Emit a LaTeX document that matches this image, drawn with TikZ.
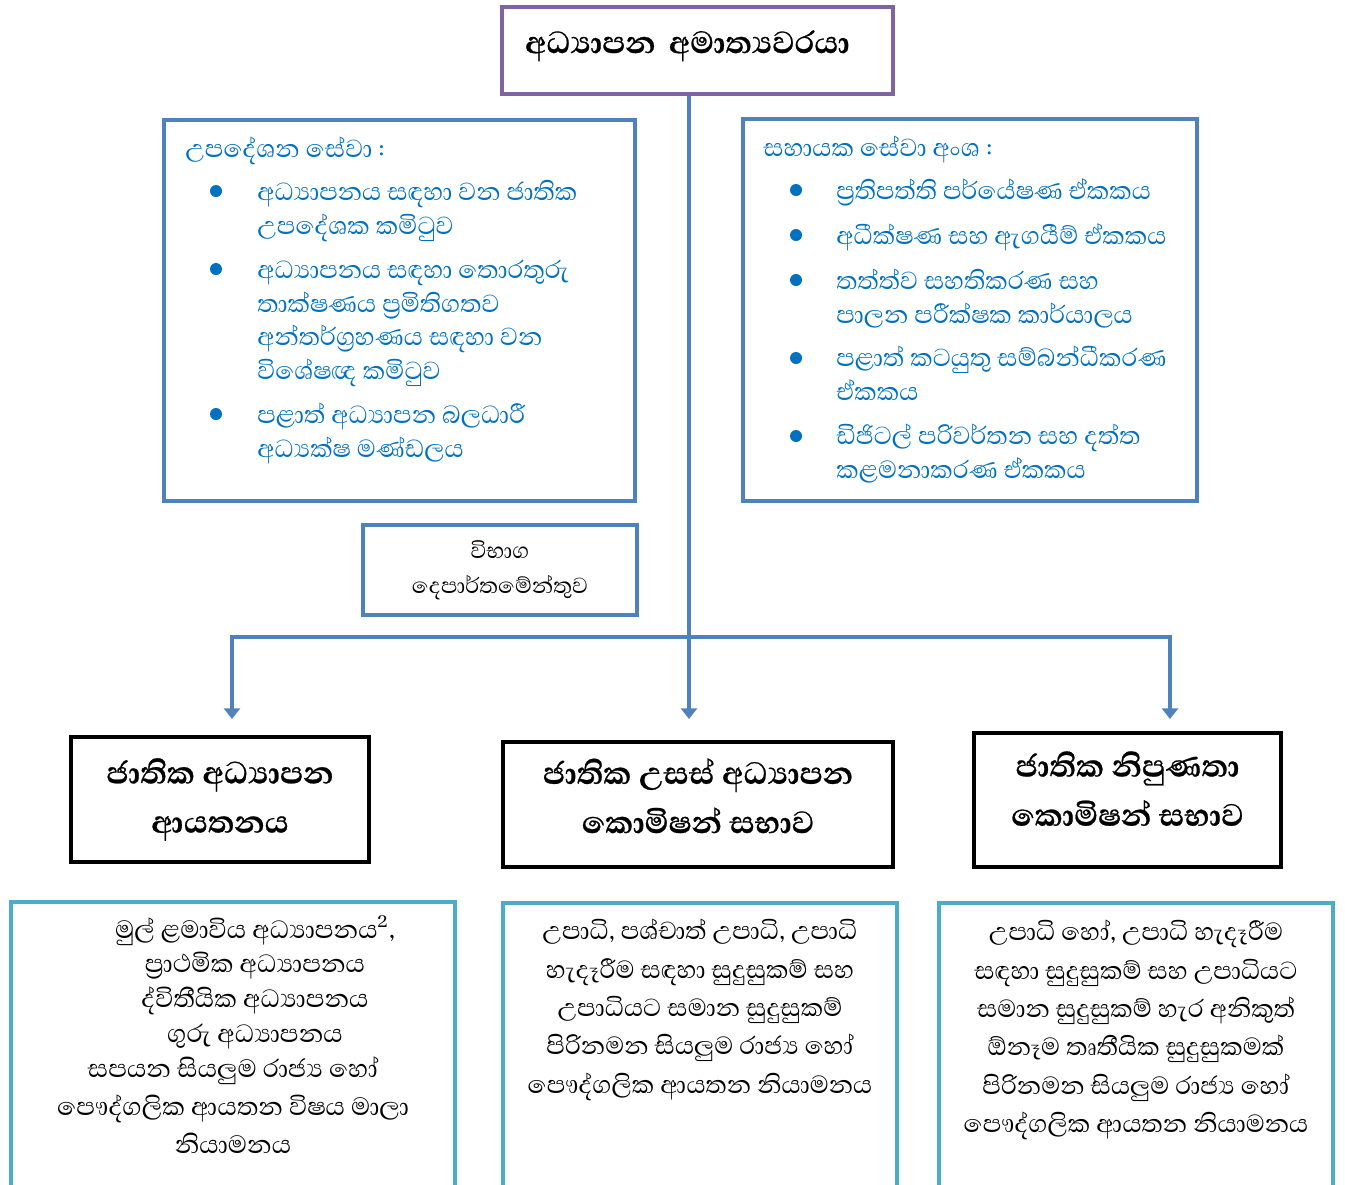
\documentclass[tikz,border=0pt]{standalone}
\usepackage{fontspec}
\setmainfont[Script=Sinhala,BoldFeatures={FakeBold=0.6}]{Abhaya Libre}
\usetikzlibrary{arrows.meta}
\definecolor{ministerpurple}{HTML}{8064A2}
\definecolor{serviceblue}{HTML}{4F81BD}
\definecolor{servicetext}{HTML}{0070C0}
\definecolor{regulatorteal}{HTML}{4BACC6}
\begin{document}
\begin{tikzpicture}[x=0.02cm,y=-0.02cm,
		purplebox/.style={draw=ministerpurple,line width=2.3pt,rectangle},
		bluebox/.style={draw=serviceblue,line width=2.3pt,rectangle},
		headbox/.style={draw=black,line width=2.3pt,rectangle,align=center,font=\fontsize{22.5}{28}\selectfont\bfseries},
		tealbox/.style={draw=regulatorteal,line width=2.3pt,rectangle,anchor=north,minimum height=6cm},
		servicetxt/.style={text=servicetext,anchor=base west,align=left,inner sep=0pt,font=\fontsize{18}{19}\selectfont},
		regtxt/.style={anchor=north,align=center,inner sep=0pt},
		feed/.style={draw=serviceblue,line width=2.3pt},
		tip/.style={-{Triangle[width=9pt,length=6pt]}}]
			\useasboundingbox (0,0) rectangle (1345,1184);
			\clip (0,0) rectangle (1345,1184);
			%\draw [help lines,step=50] (0,0) grid (1345,1184);
			\coordinate (trunk) at (689,637);
			\coordinate (busL) at (232,637);
			\coordinate (busR) at (1170,637);
			\node [purplebox,minimum width=7.82cm,minimum height=1.74cm,text width=6.9cm,align=left,text depth=10pt,font=\fontsize{22.4}{26}\selectfont\bfseries] (minister) at (697.5,50.5) {අධ්^^^^200dයාපන අමාත්^^^^200dයවරයා};
			\node [bluebox,minimum width=9.42cm,minimum height=7.62cm] (advisory) at (399.5,310.5) {};
			\node [bluebox,minimum width=9.08cm,minimum height=7.64cm] (support) at (970,310) {};
			\node [bluebox,minimum width=5.48cm,minimum height=1.8cm,align=center,font=\fontsize{15.9}{20}\selectfont] (exams) at (500,570) {විභාග\\දෙපාර්තමේන්තුව};
			\node [headbox,minimum width=5.96cm,minimum height=2.5cm] (nie) at (220,799.5) {ජාතික අධ්^^^^200dයාපන\\ආයතනය};
			\node [headbox,minimum width=7.8cm,minimum height=2.5cm,text depth=10pt] (ugc) at (698,804.5) {ජාතික උසස් අධ්^^^^200dයාපන\\කොමිෂන් සභාව};
			\node [headbox,minimum width=6.14cm,minimum height=2.68cm,text depth=13pt] (tvec) at (1127.5,800) {ජාතික නිපුණතා\\කොමිෂන් සභාව};
			\node [tealbox,minimum width=8.88cm] (nieR) at (233,900) {};
			\node [tealbox,minimum width=7.88cm] (ugcR) at (700,901) {};
			\node [tealbox,minimum width=7.88cm] (tvecR) at (1136,901) {};
			\draw [feed,tip,shorten >=0.42cm] (minister.south -| trunk) to (ugc.north -| trunk);
			\draw [feed,{Triangle[width=9pt,length=6pt]}-{Triangle[width=9pt,length=6pt]},shorten <=0.32cm,shorten >=0.24cm] (busL |- nie.north) to (busL) to (busR) to (busR |- tvec.north);
			% advisory services
			\node [servicetxt] (advH) at (185,157) {උපදේශන සේවා :};
			\node [servicetxt] (adv1) at (257,234) {අධ්^^^^200dයාපනය සඳහා වන ජාතික\\උපදේශක කමිටුව};
			\node [servicetxt] (adv2) at (257,379) {අධ්^^^^200dයාපනය සඳහා තොරතුරු\\තාක්ෂණය ප්^^^^200dරමිතිගතව\\අන්තර්ග්^^^^200dරහණය සඳහා වන\\විශේෂඥ කමිටුව};
			\node [servicetxt] (adv3) at (257,457) {පළාත් අධ්^^^^200dයාපන බලධාරී\\අධ්^^^^200dයක්ෂ මණ්ඩලය};
			\foreach \y in {191,269,414}
				\fill [servicetext] (216,\y) circle (6);
			% support services
			\node [servicetxt] (supH) at (763,156) {සහායක සේවා අංශ :};
			\node [servicetxt] (sup1) at (836,199) {ප්^^^^200dරතිපත්ති පර්යේෂණ ඒකකය};
			\node [servicetxt] (sup2) at (836,244) {අධීක්ෂණ සහ ඇගයීම් ඒකකය};
			\node [servicetxt] (sup3) at (836,323) {තත්ත්ව සහතිකරණ සහ\\පාලන පරීක්ෂක කාර්යාලය};
			\node [servicetxt] (sup4) at (836,400) {පළාත් කටයුතු සම්බන්ධීකරණ\\ඒකකය};
			\node [servicetxt] (sup5) at (836,478) {ඩිජිටල් පරිවර්තන සහ දත්ත\\කළමනාකරණ ඒකකය};
			\foreach \y in {190,235,280,358,436}
				\fill [servicetext] (796,\y) circle (6);
			% regulated scope
			\node [regtxt,font=\fontsize{18.2}{19.8}\selectfont] (nieT) at (233,915) {\hspace*{25pt}මුල් ළමාවිය අධ්^^^^200dයාපනය\textsuperscript{2},\\\hspace*{25pt}ප්^^^^200dරාථමික අධ්^^^^200dයාපනය\\\hspace*{25pt}ද්විතීයික අධ්^^^^200dයාපනය\\\hspace*{25pt}ගුරු අධ්^^^^200dයාපනය\\සපයන සියලුම රාජ්^^^^200dය හෝ\\[2pt]පෞද්ගලික ආයතන විෂය මාලා\\[2pt]නියාමනය};
			\node [regtxt,font=\fontsize{18}{21.8}\selectfont] (ugcT) at (700,919) {උපාධි, පශ්චාත් උපාධි, උපාධි\\හැදෑරීම සඳහා සුදුසුකම් සහ\\උපාධියට සමාන සුදුසුකම්\\පිරිනමන සියලුම රාජ්^^^^200dය හෝ\\පෞද්ගලික ආයතන නියාමනය};
			\node [regtxt,font=\fontsize{18}{21.8}\selectfont] (tvecT) at (1136,920) {උපාධි හෝ, උපාධි හැදෑරීම\\සඳහා සුදුසුකම් සහ උපාධියට\\සමාන සුදුසුකම් හැර අනිකුත්\\ඕනෑම තෘතීයික සුදුසුකමක්\\පිරිනමන සියලුම රාජ්^^^^200dය හෝ\\පෞද්ගලික ආයතන නියාමනය};
		\end{tikzpicture}
\end{document}
